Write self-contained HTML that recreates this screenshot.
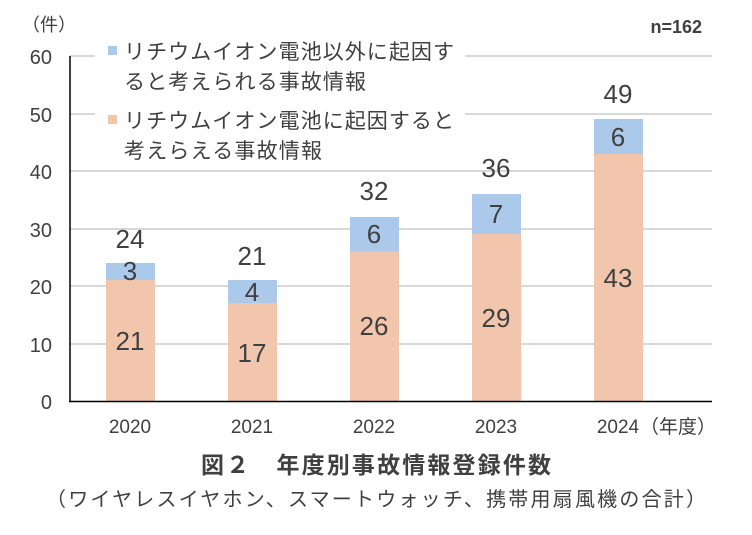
<!DOCTYPE html>
<html><head><meta charset="utf-8"><style>
body{margin:0;background:#fff;}
svg text{font-family:"Liberation Sans","Noto Sans CJK JP",sans-serif;fill:#404040;}
</style></head><body>
<svg width="752" height="530" viewBox="0 0 752 530" xmlns="http://www.w3.org/2000/svg">
<rect width="752" height="530" fill="#fff"/>
<g stroke="#c0c0c0" stroke-width="1.3">
<line x1="70" y1="56" x2="712" y2="56"/>
<line x1="70" y1="114" x2="712" y2="114"/>
<line x1="70" y1="171" x2="712" y2="171"/>
<line x1="70" y1="229" x2="712" y2="229"/>
<line x1="70" y1="286" x2="712" y2="286"/>
<line x1="70" y1="344" x2="712" y2="344"/>
</g>
<rect x="95" y="35" width="370" height="130" fill="#fff"/>
<g>
<rect x="106" y="280" width="49" height="121" fill="#f2c6ad"/><rect x="106" y="263" width="49" height="17" fill="#abc9ea"/>
<rect x="228" y="303" width="49" height="98" fill="#f2c6ad"/><rect x="228" y="280" width="49" height="23" fill="#abc9ea"/>
<rect x="350" y="251.5" width="49" height="149.5" fill="#f2c6ad"/><rect x="350" y="217" width="49" height="34.5" fill="#abc9ea"/>
<rect x="472" y="234" width="49" height="167" fill="#f2c6ad"/><rect x="472" y="194" width="49" height="40" fill="#abc9ea"/>
<rect x="594" y="154" width="49" height="247" fill="#f2c6ad"/><rect x="594" y="119" width="49" height="35" fill="#abc9ea"/>
</g>
<line x1="70" y1="56" x2="70" y2="402" stroke="#000" stroke-width="1.5"/>
<line x1="69" y1="401.5" x2="712" y2="401.5" stroke="#000" stroke-width="1.5"/>
<g font-size="20" text-anchor="end">
<text x="52" y="64">60</text><text x="52" y="122">50</text><text x="52" y="179">40</text>
<text x="52" y="237">30</text><text x="52" y="294">20</text><text x="52" y="352">10</text><text x="52" y="409">0</text>
</g>
<text x="22" y="31" font-size="18">（件）</text>
<g font-size="19" text-anchor="middle">
<text x="130" y="433">2020</text><text x="252" y="433">2021</text><text x="374" y="433">2022</text><text x="496" y="433">2023</text><text x="618" y="433">2024</text>
</g>
<text x="640" y="433" font-size="19">（年度）</text>
<g font-size="26" text-anchor="middle" fill="#404040">
<text x="130" y="248">24</text><text x="252" y="265">21</text><text x="374" y="200">32</text><text x="496" y="177">36</text><text x="618" y="103">49</text>
<text x="130" y="280">3</text><text x="252" y="301">4</text><text x="374" y="243">6</text><text x="496" y="223">7</text><text x="618" y="146">6</text>
<text x="130" y="350">21</text><text x="252" y="362">17</text><text x="374" y="335">26</text><text x="496" y="327">29</text><text x="618" y="287">43</text>
</g>
<text x="702" y="33" font-size="18" font-weight="bold" text-anchor="end" fill="#000">n=162</text>
<rect x="108" y="46" width="9" height="9" fill="#abc9ea"/>
<text x="124" y="59" font-size="21" textLength="330">リチウムイオン電池以外に起因す</text>
<text x="124" y="89" font-size="21" textLength="242">ると考えられる事故情報</text>
<rect x="108" y="115" width="9" height="9" fill="#f2c6ad"/>
<text x="124" y="128" font-size="21" textLength="330">リチウムイオン電池に起因すると</text>
<text x="124" y="158" font-size="21" textLength="198">考えらえる事故情報</text>
<text x="376" y="473" font-size="23" font-weight="bold" text-anchor="middle" fill="#000" textLength="350">図２　年度別事故情報登録件数</text>
<text x="376" y="506" font-size="20" text-anchor="middle" fill="#000" textLength="660">（ワイヤレスイヤホン、スマートウォッチ、携帯用扇風機の合計）</text>
</svg>
</body></html>
